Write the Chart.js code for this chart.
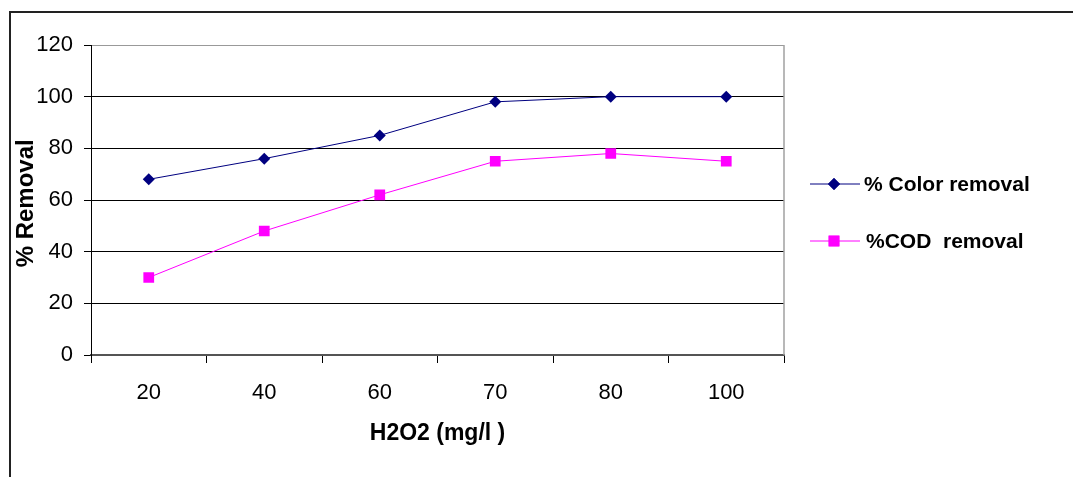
<!DOCTYPE html>
<html>
<head>
<meta charset="utf-8">
<script src="https://cdn.jsdelivr.net/npm/chart.js@4/dist/chart.umd.min.js"></script>
<style>
html,body{margin:0;padding:0;background:#fff;overflow:hidden;}
#wrap{position:relative;width:1073px;height:477px;}
</style>
</head>
<body>
<div id="wrap"><canvas id="c" width="1073" height="477"></canvas></div>
<script>
const categories = ['20', '40', '60', '70', '80', '100'];
const colorRemoval = [68, 76, 85, 98, 100, 100];
const codRemoval = [30, 48, 62, 75, 78, 75];
const yTicks = [0, 20, 40, 60, 80, 100, 120];
const seriesNames = ['% Color removal', '%COD  removal'];
const xTitle = 'H2O2 (mg/l )';
const yTitle = '% Removal ';

const FONT = "'Liberation Sans', Arial, sans-serif";

const framePlugin = {
  id: 'frame',
  beforeDraw(chart) {
    const ctx = chart.ctx;
    ctx.save();
    ctx.fillStyle = '#fff';
    ctx.fillRect(0, 0, chart.width, chart.height);
    ctx.strokeStyle = '#222';
    ctx.lineWidth = 2;
    ctx.beginPath();
    ctx.moveTo(10, 477);
    ctx.lineTo(10, 12);
    ctx.lineTo(1073, 12);
    ctx.stroke();
    ctx.restore();
  },
  afterDatasetsDraw(chart) {
    const ctx = chart.ctx;
    const a = chart.chartArea;
    ctx.save();
    ctx.strokeStyle = '#a0a0a0';
    ctx.lineWidth = 1.5;
    ctx.beginPath();
    ctx.moveTo(a.right, a.top);
    ctx.lineTo(a.right, a.bottom);
    ctx.stroke();
    ctx.restore();
  },
  afterDraw(chart) {
    const ctx = chart.ctx;
    const items = [
      {ds: chart.data.datasets[0], y: 184, tx: 864},
      {ds: chart.data.datasets[1], y: 241, tx: 866}
    ];
    ctx.save();
    items.forEach(it => {
      ctx.strokeStyle = it.ds.borderColor;
      ctx.lineWidth = 1;
      ctx.beginPath();
      ctx.moveTo(810, it.y);
      ctx.lineTo(860, it.y);
      ctx.stroke();
      ctx.fillStyle = it.ds.pointBackgroundColor;
      ctx.beginPath();
      Chart.helpers.drawPoint(ctx, {pointStyle: it.ds.pointStyle, radius: it.ds.pointRadius, rotation: 0, borderWidth: 0}, 834, it.y);
      ctx.fill();
      ctx.fillStyle = '#000';
      ctx.font = 'bold 21px ' + FONT;
      ctx.textBaseline = 'middle';
      ctx.textAlign = 'left';
      ctx.fillText(it.ds.label, it.tx, it.y + 1);
    });
    ctx.restore();
  }
};

new Chart(document.getElementById('c'), {
  type: 'line',
  data: {
    labels: categories,
    datasets: [
      {
        label: seriesNames[0],
        data: colorRemoval,
        borderColor: '#000080',
        backgroundColor: '#000080',
        pointBackgroundColor: '#000080',
        pointBorderColor: '#000080',
        pointStyle: 'rectRot',
        pointRadius: 6,
        pointBorderWidth: 0,
        borderWidth: 1,
        tension: 0
      },
      {
        label: seriesNames[1],
        data: codRemoval,
        borderColor: '#FF00FF',
        backgroundColor: '#FF00FF',
        pointBackgroundColor: '#FF00FF',
        pointBorderColor: '#FF00FF',
        pointStyle: 'rect',
        pointRadius: 7.6,
        pointBorderWidth: 0,
        borderWidth: 1,
        tension: 0
      }
    ]
  },
  options: {
    responsive: false,
    animation: false,
    devicePixelRatio: 1,
    layout: { padding: { left: 0, top: 45, right: 289, bottom: 0 } },
    plugins: {
      legend: { display: false },
      tooltip: { enabled: false }
    },
    scales: {
      x: {
        type: 'category',
        offset: true,
        grid: {
          offset: true,
          drawOnChartArea: false,
          drawTicks: true,
          tickLength: 8,
          tickColor: '#000',
          tickWidth: 1
        },
        border: { display: true, color: '#555', width: 1.5 },
        ticks: {
          color: '#000',
          font: { family: FONT, size: 22 },
          padding: 17,
          maxRotation: 0,
          autoSkip: false
        },
        title: {
          display: true,
          text: xTitle,
          color: '#000',
          font: { family: FONT, size: 23, weight: 'bold' },
          padding: { top: 0, bottom: 30 }
        },
        afterFit(scale) { scale.height = 122; }
      },
      y: {
        min: 0,
        max: 120,
        afterBuildTicks(scale) { scale.ticks = yTicks.map(v => ({ value: v })); },
        grid: {
          color: ctx => ctx.tick && ctx.tick.value === 120 ? '#999' : (ctx.tick && ctx.tick.value === 0 ? '#555' : '#000'),
          lineWidth: 1,
          drawTicks: true,
          tickLength: 7,
          tickColor: '#000'
        },
        border: { display: true, color: '#000', width: 1 },
        ticks: {
          color: '#000',
          font: { family: FONT, size: 22 },
          padding: 11
        },
        title: {
          display: true,
          text: yTitle,
          color: '#000',
          font: { family: FONT, size: 24, weight: 'bold' },
          padding: { top: 12, bottom: 0 }
        },
        afterFit(scale) { scale.width = 91; }
      }
    }
  },
  plugins: [framePlugin]
});
</script>
</body>
</html>
